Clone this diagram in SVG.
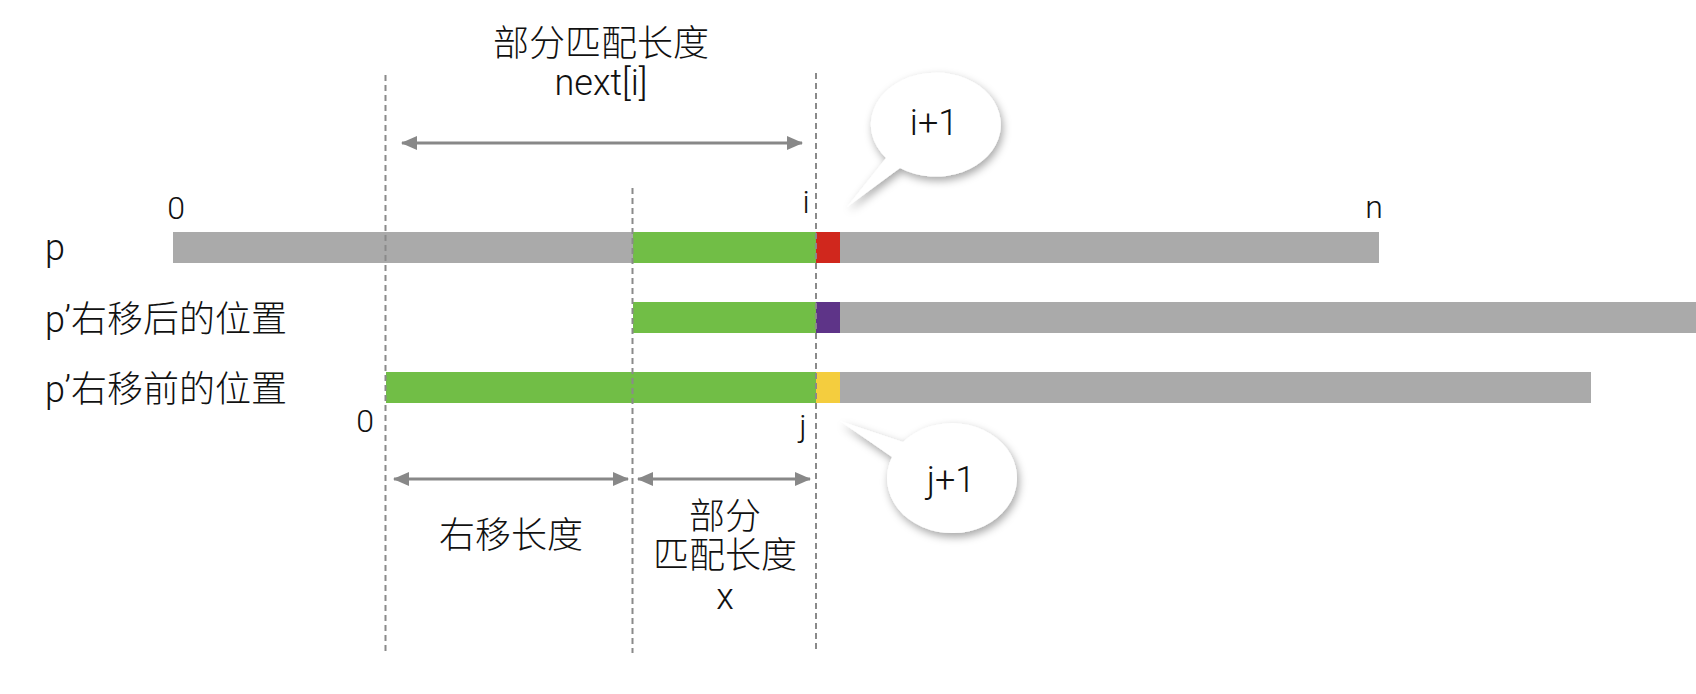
<svg xmlns="http://www.w3.org/2000/svg" width="1696" height="694" viewBox="0 0 1696 694">
  <style>
    text { font-family: Roboto, "Liberation Sans", "Noto Sans CJK SC", sans-serif; fill: #111; font-weight: 300; }
    .lbl { font-size: 36px; }
    .idx { font-size: 32px; }
    .mid { text-anchor: middle; }
    .dash { stroke: #8a8a8a; stroke-width: 2; stroke-dasharray: 6 4; fill: none; }
    .arr { stroke: #888; stroke-width: 3; fill: none; marker-start: url(#ah); marker-end: url(#ah); }
    .gray { fill: #aaaaaa; }
    .green { fill: #71be46; }
    .bubble { fill: #fff; filter: url(#sh); }
  </style>
  <defs>
    <marker id="ah" viewBox="0 0 16 14" refX="15" refY="7" markerWidth="16" markerHeight="14" markerUnits="userSpaceOnUse" orient="auto-start-reverse">
      <path d="M0,0 L16,7 L0,14 Z" fill="#888"/>
    </marker>
    <filter id="sh" x="-30%" y="-30%" width="160%" height="170%">
      <feDropShadow dx="2" dy="4" stdDeviation="4" flood-color="#000" flood-opacity="0.35"/>
    </filter>
  </defs>
  <rect width="1696" height="694" fill="#fff"/>

  <g id="row-p">
    <rect class="gray" x="173" y="232" width="1206" height="31"/>
    <rect class="green" x="633" y="232" width="183" height="31"/>
    <rect x="816" y="232" width="24" height="31" fill="#d0271d"/>
    <text class="lbl" x="45" y="260">p</text>
    <text class="idx mid" x="176" y="219">0</text>
    <text class="idx mid" x="806" y="213">i</text>
    <text class="idx mid" x="1374" y="218">n</text>
  </g>

  <g id="row-after">
    <rect class="gray" x="840" y="302" width="856" height="31"/>
    <rect class="green" x="633" y="302" width="183" height="31"/>
    <rect x="816" y="302" width="24" height="31" fill="#5e3488"/>
    <text class="lbl" x="45" y="332">p’右移后的位置</text>
  </g>

  <g id="row-before">
    <rect class="gray" x="840" y="372" width="751" height="31"/>
    <rect class="green" x="386" y="372" width="430" height="31"/>
    <rect x="816" y="372" width="24" height="31" fill="#f4cd3e"/>
    <text class="lbl" x="45" y="402">p’右移前的位置</text>
    <text class="idx mid" x="365" y="432">0</text>
    <text class="idx mid" x="803" y="437">j</text>
  </g>

  <g id="connectors">
    <line class="dash" x1="385.5" y1="75" x2="385.5" y2="653"/>
    <line class="dash" x1="632.5" y1="188" x2="632.5" y2="653"/>
    <line class="dash" x1="816" y1="73" x2="816" y2="653"/>
    <line class="arr" x1="402" y1="143" x2="802" y2="143"/>
    <line class="arr" x1="394" y1="479" x2="628" y2="479"/>
    <line class="arr" x1="638" y1="479" x2="810" y2="479"/>
  </g>

  <g id="label-next">
    <text class="lbl mid" x="601" y="56">部分匹配长度</text>
    <text class="lbl mid" x="601" y="95">next[i]</text>
  </g>

  <g id="label-shift">
    <text class="lbl mid" x="511" y="548">右移长度</text>
  </g>

  <g id="label-x">
    <text class="lbl mid" x="725" y="529">部分</text>
    <text class="lbl mid" x="725" y="568">匹配长度</text>
    <text class="lbl mid" x="725" y="609">x</text>
  </g>

  <g id="bubble-i1">
    <path class="bubble" d="M886,158 L847,207 L900,168 A65,52 0 1 0 886,158 Z"/>
    <text class="lbl mid" x="934" y="135">i+1</text>
  </g>

  <g id="bubble-j1">
    <path class="bubble" d="M892,457 L840,421 L903,442 A65,55 0 1 1 892,457 Z"/>
    <text class="lbl mid" x="951" y="492">j+1</text>
  </g>
</svg>
